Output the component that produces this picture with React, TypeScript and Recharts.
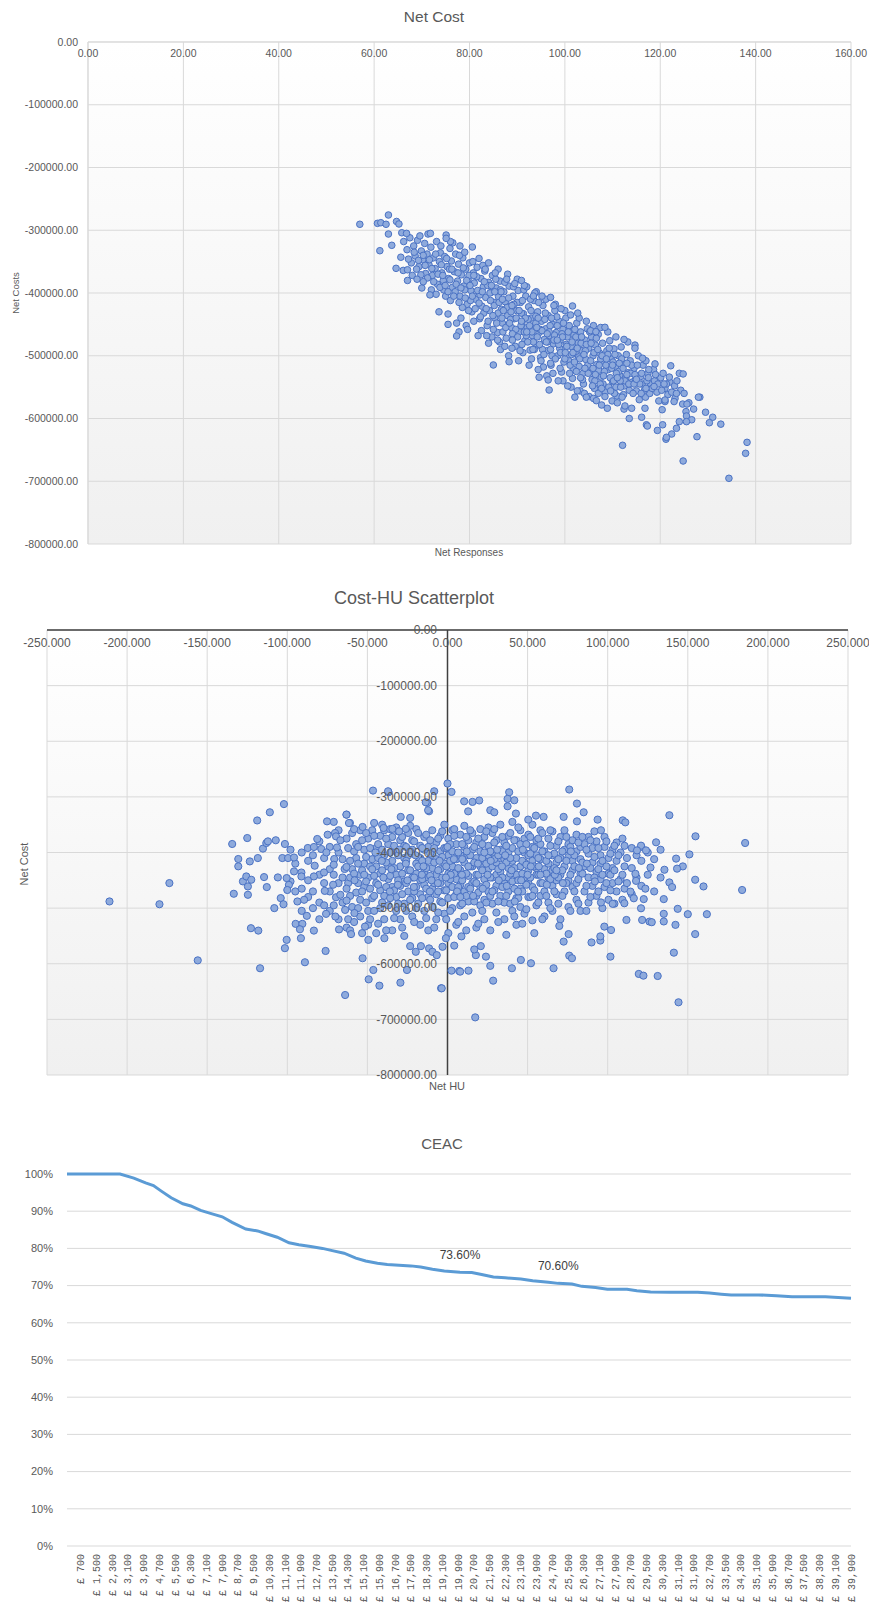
import {
  ScatterChart,
  Scatter,
  LineChart,
  Line,
  XAxis,
  YAxis,
  CartesianGrid,
  ReferenceLine,
  LabelList,
} from "recharts";

const FONT = "'Liberation Sans Narrow', 'Liberation Sans', Arial, sans-serif";
const MONO = "'Liberation Mono', 'DejaVu Sans Mono', monospace";
const GREY = "#595959";

// Net Cost chart: [net responses, net cost in £ thousands]
const responseCostTail: [number, number][] = [
  [57.0, -290.5], [60.7, -289.0], [61.4, -288.0], [62.5, -290.5], [63.0, -275.7], [64.7, -286.0], [65.2, -290.0],
  [63.0, -306.0], [61.2, -332.6], [63.7, -324.0], [64.6, -360.7], [65.8, -304.0], [66.8, -305.0], [69.6, -309.0],
  [71.3, -306.0], [71.8, -305.0], [75.1, -307.6], [75.1, -312.9], [80.6, -326.7], [65.6, -343.0], [67.2, -346.0],
  [66.1, -364.0], [67.0, -363.0], [77.3, -468.5], [85.0, -514.7], [88.3, -509.5], [73.6, -430.0], [75.5, -433.5],
  [75.5, -450.0], [77.3, -448.0], [71.7, -403.0], [69.0, -378.0], [70.3, -382.0], [90.9, -380.0], [93.4, -404.8],
  [97.0, -407.0], [101.6, -420.7], [108.4, -454.7], [112.4, -474.0], [114.7, -483.0], [114.7, -488.0], [116.3, -504.0],
  [118.9, -513.0], [122.2, -516.0], [124.0, -528.0], [124.8, -529.0], [121.9, -534.0], [120.8, -545.0], [123.4, -560.0],
  [128.3, -566.0], [124.7, -577.0], [125.6, -577.0], [125.4, -589.0], [125.5, -596.0], [126.6, -602.0], [124.0, -605.0],
  [130.3, -606.7], [132.7, -609.0], [127.7, -629.0], [124.8, -667.7], [134.4, -695.3], [138.2, -638.0], [137.9, -655.5],
  [112.1, -642.7], [121.2, -633.0], [122.4, -624.7], [123.4, -615.6], [119.4, -619.0], [120.5, -610.0], [120.4, -586.0],
  [121.0, -573.0], [117.1, -610.0], [116.1, -598.0], [113.5, -600.0], [116.8, -583.7], [112.4, -585.0], [114.0, -583.7],
  [112.6, -580.0], [108.9, -583.7], [107.7, -578.5], [106.6, -571.6], [104.5, -566.0], [102.1, -566.0], [96.7, -554.6],
  [94.6, -534.3], [96.5, -538.6], [118.7, -549.0], [117.0, -552.0], [115.0, -537.5], [105.4, -460.0], [106.5, -461.7],
  [128.0, -566.0], [121.0, -570.5], [122.9, -573.0], [117.3, -612.0], [121.3, -630.0], [125.5, -605.0],
];

const responseCostCloud: [number, number][] = [
  [66.2, -318], [66.9, -331], [67.5, -312], [67.8, -352], [68.3, -325], [68.6, -341], [69.1, -316], [69.4, -358],
  [69.9, -333], [70.2, -347], [70.6, -321], [70.8, -369], [71.1, -338], [71.5, -355], [71.9, -327], [72.2, -372],
  [72.4, -344], [72.8, -361], [73.1, -318], [73.3, -386], [73.7, -350], [73.9, -336], [74.2, -368], [74.6, -395],
  [74.8, -342], [75.3, -358], [75.6, -377], [75.9, -329], [76.2, -349], [76.4, -391], [76.8, -366], [77.1, -338],
  [77.5, -381], [77.7, -354], [78.0, -405], [78.3, -371], [78.6, -344], [78.8, -389], [79.2, -362], [79.5, -418],
  [79.7, -378], [80.0, -352], [80.3, -396], [80.5, -430], [80.8, -368], [81.0, -384], [81.3, -410], [81.6, -359],
  [81.9, -398], [82.1, -441], [82.4, -377], [82.6, -421], [82.9, -390], [83.2, -365], [83.4, -407], [83.7, -452],
  [84.0, -383], [84.2, -428], [84.5, -399], [84.8, -372], [85.1, -415], [85.3, -440], [85.6, -392], [85.9, -463],
  [86.1, -406], [86.4, -381], [86.7, -426], [86.9, -448], [87.2, -398], [87.5, -414], [87.7, -472], [88.0, -436],
  [88.3, -389], [88.5, -421], [88.8, -455], [89.1, -405], [89.4, -441], [89.6, -485], [89.9, -428], [90.2, -396],
  [90.5, -462], [90.7, -415], [91.0, -447], [91.3, -433], [91.6, -476], [91.8, -405], [92.1, -455], [92.4, -422],
  [92.7, -491], [92.9, -440], [93.2, -468], [93.5, -412], [93.8, -452], [94.0, -484], [94.3, -430], [94.6, -463],
  [94.9, -503], [95.1, -445], [95.4, -420], [95.7, -474], [96.0, -457], [96.3, -492], [96.5, -436], [96.8, -468],
  [97.1, -515], [97.4, -450], [97.6, -481], [97.9, -428], [98.2, -463], [98.5, -500], [98.8, -445], [99.0, -476],
  [99.3, -526], [99.6, -458], [99.9, -490], [100.2, -440], [100.5, -470], [100.8, -508], [101.0, -455], [101.3, -485],
  [101.6, -536], [101.9, -467], [102.2, -497], [102.5, -448], [102.8, -480], [103.0, -517], [103.3, -462], [103.6, -492],
  [103.9, -545], [104.2, -475], [104.4, -506], [104.7, -457], [105.0, -488], [105.3, -526], [105.6, -470], [105.9, -500],
  [106.2, -552], [106.4, -483], [106.7, -514], [107.0, -466], [107.3, -496], [107.6, -534], [107.9, -480], [108.2, -509],
  [108.5, -558], [108.8, -492], [109.1, -522], [109.4, -476], [109.7, -505], [110.0, -541], [110.3, -489], [110.6, -518],
  [110.9, -564], [111.2, -500], [111.5, -531], [111.8, -486], [112.1, -514], [112.5, -548], [112.9, -498], [113.3, -527],
  [113.7, -508], [114.1, -542], [114.5, -520], [115.0, -556], [115.4, -500], [115.9, -533], [116.4, -515], [116.9, -566],
  [117.4, -528], [118.0, -545], [118.6, -522], [119.3, -558], [120.1, -535], [121.0, -552], [122.0, -542], [123.1, -568],
  [124.3, -555], [126.0, -575],
  [74.0, -325], [74.5, -380], [75.0, -405], [75.8, -362], [76.5, -320], [77.0, -398], [77.9, -340], [78.5, -423],
  [79.0, -395], [79.9, -372], [80.2, -412], [80.9, -445], [81.5, -374], [82.2, -403], [82.8, -356], [83.0, -432],
  [83.8, -388], [84.4, -412], [85.0, -458], [85.5, -378], [86.0, -432], [86.5, -395], [87.0, -462], [87.4, -383],
  [87.9, -423], [88.6, -442], [89.2, -390], [89.7, -458], [90.0, -415], [90.9, -432], [91.4, -395], [91.9, -468],
  [92.3, -442], [92.8, -410], [93.4, -478], [93.9, -437], [94.5, -415], [94.8, -458], [95.3, -490], [95.9, -432],
  [96.4, -478], [96.9, -452], [97.3, -500], [97.8, -467], [98.3, -438], [98.9, -488], [99.4, -465], [99.8, -510],
  [100.3, -482], [100.9, -452], [101.4, -498], [101.8, -522], [102.3, -470], [102.9, -502], [103.4, -480], [103.8, -528],
  [104.3, -492], [104.8, -515], [105.2, -462], [105.7, -538], [106.1, -495], [106.6, -472], [107.1, -523], [107.5, -505],
  [108.0, -545], [108.6, -515], [109.0, -498], [109.5, -535], [110.1, -510], [110.7, -550], [111.3, -525], [111.9, -505],
  [112.3, -562], [112.8, -535], [113.5, -555], [114.0, -515], [114.8, -538], [115.6, -570], [116.2, -545], [117.0, -508],
  [117.8, -560], [118.8, -540], [119.7, -572], [120.6, -528], [121.6, -562], [123.0, -548], [125.0, -560], [127.0, -585],
  [129.5, -590], [131.0, -598],
  [72.0, -395], [73.0, -402], [76.0, -412], [78.2, -440], [79.3, -452], [70.0, -392], [68.0, -372], [67.0, -380],
  [76.0, -318], [78.0, -325], [79.0, -335], [82.0, -345], [84.0, -352], [86.0, -362], [88.0, -370], [90.0, -378],
  [92.0, -390], [94.0, -398], [96.0, -410], [98.0, -418], [100.0, -428], [103.0, -440], [106.0, -452], [109.0, -462],
  [68.4, -335], [68.9, -362], [69.3, -348], [69.8, -371], [70.3, -340], [70.7, -356], [71.2, -376], [71.6, -347],
  [72.1, -361], [72.5, -382], [72.9, -338], [73.4, -370], [73.8, -391], [74.1, -355], [74.4, -372], [74.9, -388],
  [75.2, -345], [75.5, -398], [75.9, -379], [76.3, -362], [76.7, -405], [77.2, -386], [77.6, -368], [77.8, -415],
  [78.2, -392], [78.7, -360], [79.1, -408], [79.4, -380], [79.8, -428], [80.1, -388], [80.6, -405], [80.9, -372],
  [81.2, -425], [81.7, -396], [82.0, -416], [82.3, -438], [82.7, -398], [83.1, -382], [83.5, -425], [83.9, -445],
  [84.3, -400], [84.6, -388], [84.9, -436], [85.2, -420], [85.7, -448], [86.2, -415], [86.6, -398], [86.8, -440],
  [87.1, -428], [87.6, -455], [88.2, -408], [88.4, -448], [88.7, -430], [89.0, -465], [89.3, -418], [89.8, -440],
  [90.1, -470], [90.4, -428], [90.8, -452], [91.1, -412], [91.5, -462], [91.7, -440], [92.2, -478], [92.6, -452],
  [92.9, -428], [93.1, -462], [93.6, -490], [93.9, -448], [94.2, -470], [94.4, -440], [94.7, -482], [95.2, -460],
  [95.6, -498], [95.8, -442], [96.1, -478], [96.7, -462], [97.0, -490], [97.2, -440], [97.7, -475], [98.0, -505],
  [98.4, -452], [98.7, -482], [99.1, -495], [99.5, -470], [99.7, -448], [100.0, -505], [100.4, -485], [100.7, -462],
  [101.1, -515], [101.5, -478], [101.7, -495], [102.1, -458], [102.4, -525], [102.6, -488], [103.1, -505], [103.5, -470],
  [103.7, -538], [104.0, -498], [104.5, -482], [104.9, -528], [105.4, -508], [105.5, -480], [105.9, -520], [106.3, -540],
  [106.9, -490], [107.2, -515], [107.4, -545], [107.8, -500], [108.3, -525], [108.7, -505], [109.2, -550], [109.3, -488],
  [109.8, -520], [110.2, -540], [110.5, -498], [110.8, -528], [111.4, -512], [111.7, -550], [112.2, -520], [112.6, -540],
  [113.0, -512], [113.4, -545], [113.8, -528], [114.3, -560], [114.7, -530], [115.2, -515], [115.7, -545], [116.1, -528],
  [116.7, -555], [117.2, -540], [117.6, -522], [118.3, -552], [119.0, -530], [119.5, -545], [120.3, -555], [121.3, -545],
  [122.4, -558], [123.5, -540],
  [82.5, -460], [84.7, -470], [86.3, -478], [88.9, -488], [91.2, -495], [93.0, -505], [95.5, -518], [97.5, -528],
  [99.6, -540], [101.3, -550], [103.2, -556], [105.1, -565], [107.0, -560], [109.9, -572], [111.0, -575],
  [80.7, -350], [83.3, -362], [85.4, -368], [87.8, -378], [89.5, -385], [91.5, -388], [93.7, -400], [95.2, -405],
  [97.7, -420], [99.2, -425], [101.2, -435], [102.7, -432], [104.5, -445], [107.5, -455], [110.7, -470], [113.2, -478],
  [86.5, -490], [88.2, -500], [90.3, -508], [92.5, -515], [94.4, -522], [96.2, -532], [98.6, -540], [100.6, -548],
  [102.6, -556], [104.1, -560], [106.0, -568], [108.4, -565], [110.4, -560], [112.0, -566], [84.0, -480], [81.8, -468],
  [79.6, -458], [77.8, -462], [89.0, -475], [91.0, -482], [93.3, -490], [95.0, -508], [97.0, -512], [99.0, -520],
  [101.0, -528], [103.3, -535], [105.8, -548], [107.7, -552], [109.6, -556], [111.6, -540], [83.6, -468], [85.9, -475],
  [87.4, -485], [90.6, -492], [85.3, -398], [86.9, -410], [88.9, -420], [90.9, -445], [92.0, -462], [94.1, -455],
  [96.3, -465], [98.4, -475], [100.1, -495], [102.0, -510], [104.2, -520], [106.4, -530], [108.1, -532], [110.0, -515],
  [111.0, -535], [113.0, -530], [114.5, -545], [116.0, -560], [117.5, -535],
];

// Cost-HU chart: [net HU, net cost in £ thousands]
const huCostSpread: [number, number][] = [
  [-211, -488], [-179.8, -493], [-173.6, -455], [-155.9, -593.9], [-134.4, -384.7], [-130.6, -411.7], [-130.6, -424.9],
  [-125, -374], [-118.8, -342.4], [-110.9, -327.7], [-102.1, -313], [-133.4, -474.2], [-127.7, -452], [-125.6, -443],
  [-122.5, -449], [-124.6, -461], [-124.6, -476], [-123.4, -416], [-118.4, -410], [-115.2, -393], [-113.1, -383],
  [-112.1, -380], [-107.2, -378], [-101.5, -384.7], [-114.5, -444.2], [-112.8, -462.2], [-105.9, -444.8], [-108.1, -500],
  [-104.1, -482], [-102.4, -493], [-122.7, -536.1], [-118.1, -540.4], [-117, -608.1], [-103.1, -410], [-99.5, -410],
  [-95.8, -409], [-100.4, -446], [-99, -458.2], [-100, -467.4], [-95.8, -434], [-91.2, -436], [-91.2, -443],
  [-94.8, -528.3], [-90.6, -528.3], [-92.1, -538], [-100.4, -557.1], [-101.5, -572], [-93.7, -488], [-89.5, -485],
  [-87.8, -513.9], [-91.5, -554.1], [-89, -597.3], [-87.2, -391.9], [-83.4, -390.1], [-81.3, -375.7], [-78.8, -393.7],
  [-75.6, -399.8], [-82.9, -423.8], [-83.4, -443], [-77.1, -435.9], [-75.2, -344], [-74.8, -368], [-70.2, -365],
  [-69, -391], [-69.6, -371], [-66.9, -378], [-70.7, -411.7], [-71, -422], [-71.4, -458], [-76.6, -469],
  [-69.6, -480.5], [-70, -515.1], [-75.8, -510.3], [-83.4, -540.4], [-76.1, -577], [-67.7, -538.3], [-63.9, -656.2],
  [-63, -331.9], [-60.9, -346.9], [-64.2, -429.7], [-63.1, -426], [-66.9, -476.1], [-63, -486.4], [-63.9, -503.2],
  [-60.2, -546.7], [-58.1, -508.9], [-53, -354.1], [-45.8, -346.9], [-39.9, -355.9], [-36.8, -291.7], [-46.5, -288.7],
  [-53, -590.1], [-46.3, -611.2], [-49.2, -628], [-42.5, -639.4], [-29.4, -634], [-25.3, -611.2], [-4, -644.1],
  [-49.4, -557.1], [-39.4, -554.1], [-51.5, -533.2], [-12.5, -310.8], [-11.5, -325.9], [-8.3, -289.9], [0, -276],
  [2.5, -291.1], [-29.2, -336], [-23.3, -337.8], [-34.4, -357.6], [-30.2, -361.9], [-26, -357.6], [-23.3, -568.3],
  [-19.8, -578.5], [-16.6, -568.3], [-11.5, -572.4], [-9.4, -578.5], [-6.7, -584.5], [-3.1, -569.5], [2.5, -612.4],
  [7.3, -613], [-37.1, -289.9], [-13.6, -309.7], [-12.1, -324], [-63.1, -331.9], [-61.5, -347],
  [76, -286.8], [80.8, -312], [85, -327.7], [80.8, -344], [93.7, -340.9], [109.4, -342.2], [111, -345.8],
  [138.5, -333], [154.8, -370.9], [185.8, -382.9], [183.9, -467.4], [130.2, -381.7], [120.8, -387.7], [123.9, -396.2],
  [118.3, -396.2], [142.7, -411], [151, -403.4], [146.9, -425], [143.3, -429], [135.4, -431], [126.7, -427],
  [154.6, -449], [159.8, -461], [138.5, -453.8], [140.2, -462.2], [135, -483.8], [143.7, -501.3], [150, -510.9],
  [161.9, -510.9], [135, -510.3], [135, -524], [142.3, -530.1], [154.6, -546.7], [141.3, -580.1], [144.2, -669.3],
  [119.4, -618.3], [122.3, -621.4], [131.2, -622], [121.5, -521.3], [126.1, -524.2], [127.5, -525.3], [120.8, -500.3],
  [122.5, -483.8], [123.5, -465], [111.7, -521.3], [110.4, -491.3], [116.3, -482.3], [114.2, -470.3], [117.3, -438.3],
  [117.7, -451], [101.7, -587.2], [102.1, -539.4], [97.9, -533.2], [103.1, -492.3], [95.8, -489.8], [95.4, -558.3],
  [89.9, -561.7], [95.4, -550.8], [76, -585.4], [77.7, -590.1], [66.2, -608.1], [72.5, -560.2], [75.6, -546.7],
  [69.8, -532], [52.1, -599.1], [40.2, -608.1], [45.8, -593.2], [28.5, -630.4], [26.7, -603.8], [24, -587.2],
  [17.3, -696.4], [7.9, -614.2], [13.1, -612.4], [-3.6, -644.1], [4.2, -567.4], [-1, -554.1], [17.7, -584.5],
  [16.7, -574.3], [20.8, -568.3], [8.7, -550.8], [10.4, -308], [15.6, -309], [19.8, -306.5], [12.9, -326],
  [38.5, -291.7], [37.5, -303.6], [41.7, -306.1], [37.5, -316.9], [26.7, -324], [29.2, -327.7], [42.7, -330],
  [50.4, -340.9], [55.2, -333.7], [60, -336], [72.5, -336], [95.8, -360],
];

const huCostCloud: [number, number][] = [
  [-62, -392], [-62, -455], [-62, -520], [-59.5, -365], [-59.5, -430], [-59.5, -498], [-57, -410], [-57, -472], [-57, -385],
  [-54.5, -440], [-54.5, -360], [-54.5, -515], [-54.5, -485], [-52, -395], [-52, -462], [-52, -420],
  [-49.5, -375], [-49.5, -445], [-49.5, -505], [-49.5, -530], [-47, -412], [-47, -482], [-47, -360],
  [-44.5, -392], [-44.5, -455], [-44.5, -425], [-44.5, -545], [-42, -370], [-42, -438], [-42, -500], [-42, -468],
  [-39.5, -405], [-39.5, -360], [-39.5, -478], [-39.5, -520], [-37, -385], [-37, -448], [-37, -425], [-37, -495],
  [-34.5, -415], [-34.5, -372], [-34.5, -462], [-34.5, -540], [-32, -398], [-32, -440], [-32, -505], [-32, -355], [-32, -480],
  [-29.5, -378], [-29.5, -425], [-29.5, -460], [-29.5, -520], [-27, -410], [-27, -388], [-27, -452], [-27, -492], [-27, -550],
  [-24.5, -365], [-24.5, -432], [-24.5, -470], [-24.5, -405], [-22, -395], [-22, -445], [-22, -515], [-22, -378], [-22, -482],
  [-19.5, -420], [-19.5, -358], [-19.5, -462], [-19.5, -500], [-19.5, -438], [-17, -388], [-17, -410], [-17, -475], [-17, -530], [-17, -450],
  [-14.5, -372], [-14.5, -435], [-14.5, -458], [-14.5, -505], [-14.5, -395], [-12, -415], [-12, -390], [-12, -480], [-12, -445], [-12, -540],
  [-9.5, -360], [-9.5, -428], [-9.5, -465], [-9.5, -498], [-9.5, -405], [-7, -382], [-7, -440], [-7, -412], [-7, -520], [-7, -475],
  [-4.5, -398], [-4.5, -455], [-4.5, -370], [-4.5, -488], [-4.5, -430], [-2, -420], [-2, -350], [-2, -468], [-2, -510], [-2, -392],
  [0.5, -375], [0.5, -438], [0.5, -405], [0.5, -482], [0.5, -545], [0.5, -455], [3, -398], [3, -360], [3, -462], [3, -425], [3, -500],
  [5.5, -412], [5.5, -385], [5.5, -448], [5.5, -530], [5.5, -475], [8, -368], [8, -432], [8, -405], [8, -495], [8, -458],
  [10.5, -390], [10.5, -418], [10.5, -470], [10.5, -352], [10.5, -515], [13, -405], [13, -442], [13, -378], [13, -488], [13, -462],
  [15.5, -425], [15.5, -365], [15.5, -455], [15.5, -508], [15.5, -395], [18, -382], [18, -410], [18, -478], [18, -440], [18, -535],
  [20.5, -398], [20.5, -358], [20.5, -462], [20.5, -425], [20.5, -495], [23, -415], [23, -372], [23, -448], [23, -485], [23, -520],
  [25.5, -388], [25.5, -430], [25.5, -405], [25.5, -470], [25.5, -355], [28, -400], [28, -445], [28, -365], [28, -492], [28, -425],
  [30.5, -378], [30.5, -418], [30.5, -460], [30.5, -508], [30.5, -440], [33, -395], [33, -350], [33, -435], [33, -478], [33, -410],
  [35.5, -412], [35.5, -382], [35.5, -455], [35.5, -520], [35.5, -490], [38, -370], [38, -428], [38, -400], [38, -470], [38, -445],
  [40.5, -392], [40.5, -345], [40.5, -452], [40.5, -415], [40.5, -505], [43, -410], [43, -378], [43, -440], [43, -482], [43, -530],
  [45.5, -385], [45.5, -425], [45.5, -360], [45.5, -465], [45.5, -498], [48, -400], [48, -445], [48, -418], [48, -375], [48, -510],
  [50.5, -368], [50.5, -432], [50.5, -480], [50.5, -405], [50.5, -455], [53, -390], [53, -415], [53, -350], [53, -462], [53, -522],
  [55.5, -405], [55.5, -440], [55.5, -378], [55.5, -495], [55.5, -428], [58, -385], [58, -455], [58, -412], [58, -360], [58, -478],
  [60.5, -398], [60.5, -430], [60.5, -470], [60.5, -515], [63, -375], [63, -420], [63, -445], [63, -490],
  [65.5, -405], [65.5, -362], [65.5, -460], [65.5, -432], [65.5, -505], [68, -388], [68, -418], [68, -475], [68, -450],
  [70.5, -372], [70.5, -440], [70.5, -410], [70.5, -520], [73, -395], [73, -425], [73, -470], [73, -360],
  [75.5, -408], [75.5, -450], [75.5, -385], [75.5, -498], [78, -378], [78, -432], [78, -415], [78, -462],
  [80.5, -398], [80.5, -455], [80.5, -368], [80.5, -485], [83, -412], [83, -438], [83, -390], [83, -505],
  [85.5, -385], [85.5, -425], [85.5, -470], [88, -402], [88, -445], [88, -372], [88, -490], [90.5, -418], [90.5, -392], [90.5, -460],
  [93, -380], [93, -435], [93, -478], [95.5, -405], [95.5, -448], [95.5, -420], [98, -390], [98, -462], [98, -372],
  [100.5, -410], [100.5, -438], [100.5, -485], [103, -395], [103, -428], [103, -455], [105.5, -415], [105.5, -382], [105.5, -470],
  [108, -400], [108, -448], [110.5, -425], [110.5, -388], [110.5, -465],
  [-98, -395], [-98, -452], [-95, -420], [-95, -470], [-91, -400], [-91, -465], [-91, -505], [-87, -415], [-87, -450], [-87, -480],
  [-84, -405], [-84, -470], [-84, -500], [-80, -380], [-80, -440], [-80, -490], [-80, -520], [-77, -410], [-77, -455], [-77, -495],
  [-73.5, -390], [-73.5, -430], [-73.5, -470], [-73.5, -505], [-71, -345], [-71, -440], [-71, -495], [-68, -400], [-68, -455],
  [-68, -520], [-68, -360], [-65.5, -412], [-65.5, -445], [-65.5, -490], [-63, -375], [-63, -465], [-63, -535],
  [-60.8, -415], [-60.8, -445], [-60.8, -478], [-60.8, -540], [-58.3, -398], [-58.3, -438], [-58.3, -525], [-58.3, -358],
  [-55.8, -420], [-55.8, -455], [-55.8, -390], [-55.8, -500], [-53.3, -378], [-53.3, -432], [-53.3, -470], [-53.3, -545],
  [-50.8, -408], [-50.8, -452], [-50.8, -490], [-50.8, -365], [-48.3, -392], [-48.3, -425], [-48.3, -465], [-48.3, -520],
  [-45.8, -370], [-45.8, -442], [-45.8, -478], [-45.8, -505], [-43.3, -410], [-43.3, -385], [-43.3, -458], [-43.3, -528],
  [-40.8, -395], [-40.8, -432], [-40.8, -490], [-40.8, -350], [-38.3, -418], [-38.3, -462], [-38.3, -375], [-38.3, -540],
  [-35.8, -400], [-35.8, -442], [-35.8, -482], [-35.8, -358], [-33.3, -388], [-33.3, -428], [-33.3, -468], [-33.3, -518],
  [-30.8, -405], [-30.8, -450], [-30.8, -362], [-30.8, -492], [-28.3, -372], [-28.3, -438], [-28.3, -475], [-28.3, -535],
  [-25.8, -415], [-25.8, -455], [-25.8, -390], [-25.8, -505], [-23.3, -398], [-23.3, -432], [-23.3, -485], [-23.3, -352],
  [-20.8, -380], [-20.8, -445], [-20.8, -470], [-20.8, -525], [-18.3, -408], [-18.3, -425], [-18.3, -492], [-18.3, -365],
  [-15.8, -392], [-15.8, -448], [-15.8, -482], [-15.8, -415], [-13.3, -368], [-13.3, -428], [-13.3, -465], [-13.3, -518],
  [-10.8, -402], [-10.8, -442], [-10.8, -485], [-10.8, -378], [-8.3, -418], [-8.3, -455], [-8.3, -392], [-8.3, -535],
  [-5.8, -375], [-5.8, -432], [-5.8, -470], [-5.8, -508], [-3.3, -408], [-3.3, -445], [-3.3, -362], [-3.3, -490],
  [-0.8, -392], [-0.8, -425], [-0.8, -468], [-0.8, -520], [1.7, -415], [1.7, -448], [1.7, -385], [1.7, -505],
  [4.2, -370], [4.2, -438], [4.2, -480], [4.2, -358], [6.7, -400], [6.7, -428], [6.7, -462], [6.7, -525],
  [9.2, -385], [9.2, -450], [9.2, -492], [9.2, -412], [11.7, -372], [11.7, -438], [11.7, -478], [11.7, -540],
  [14.2, -405], [14.2, -425], [14.2, -465], [14.2, -360], [16.7, -390], [16.7, -452], [16.7, -488], [16.7, -418],
  [19.2, -375], [19.2, -440], [19.2, -472], [19.2, -528], [21.7, -410], [21.7, -432], [21.7, -385], [21.7, -505],
  [24.2, -362], [24.2, -420], [24.2, -458], [24.2, -490], [26.7, -398], [26.7, -445], [26.7, -478], [26.7, -540],
  [29.2, -382], [29.2, -412], [29.2, -468], [29.2, -358], [31.7, -405], [31.7, -430], [31.7, -488], [31.7, -525],
  [34.2, -372], [34.2, -445], [34.2, -462], [34.2, -398], [36.7, -388], [36.7, -418], [36.7, -478], [36.7, -548],
  [39.2, -410], [39.2, -438], [39.2, -365], [39.2, -492], [41.7, -378], [41.7, -428], [41.7, -465], [41.7, -515],
  [44.2, -398], [44.2, -450], [44.2, -355], [44.2, -482], [46.7, -415], [46.7, -438], [46.7, -470], [46.7, -528],
  [49.2, -385], [49.2, -422], [49.2, -458], [49.2, -502], [51.7, -402], [51.7, -445], [51.7, -372], [51.7, -480],
  [54.2, -392], [54.2, -425], [54.2, -468], [54.2, -545], [56.7, -375], [56.7, -440], [56.7, -490], [56.7, -410],
  [59.2, -398], [59.2, -455], [59.2, -365], [59.2, -520], [61.7, -415], [61.7, -438], [61.7, -478],
  [64.2, -388], [64.2, -448], [64.2, -500], [64.2, -360], [66.7, -402], [66.7, -428], [66.7, -470],
  [69.2, -380], [69.2, -445], [69.2, -492], [69.2, -412], [71.7, -398], [71.7, -432], [71.7, -478],
  [74.2, -415], [74.2, -455], [74.2, -372], [76.7, -390], [76.7, -440], [76.7, -505], [79.2, -405], [79.2, -425], [79.2, -470],
  [81.7, -382], [81.7, -448], [81.7, -492], [84.2, -418], [84.2, -438], [84.2, -372], [86.7, -395], [86.7, -460], [86.7, -505],
  [89.2, -378], [89.2, -428], [89.2, -480], [91.7, -408], [91.7, -445], [91.7, -362], [94.2, -392], [94.2, -470], [94.2, -430],
  [96.7, -415], [96.7, -440], [96.7, -500], [99.2, -380], [99.2, -455], [99.2, -425], [101.7, -402], [101.7, -468], [101.7, -440],
  [104.2, -388], [104.2, -432], [104.2, -492], [106.7, -405], [106.7, -452], [109.2, -375], [109.2, -440], [109.2, -485],
  [112, -410], [112, -455], [115, -392], [115, -428], [115, -475], [118, -405], [118, -445], [121, -415], [121, -460],
  [121, -390], [125, -400], [125, -440], [129, -412], [129, -470], [133, -395], [133, -445],
  [-45, -400], [-40, -445], [-35, -430], [-30, -395], [-25, -450], [-20, -405], [-15, -425], [-10, -450], [-5, -415],
  [0, -390], [2, -440], [6, -470], [9, -440], [12, -398], [16, -478], [19, -420], [22, -465], [25, -440], [27, -415],
  [31, -395], [34, -425], [37, -460], [40, -432], [44, -470], [47, -395], [50, -440], [53, -478], [57, -425], [62, -458],
  [67, -440], [72, -455], [77, -398], [82, -428], [87, -420], [92, -452],
  [-58, -450], [-52, -440], [-47, -430], [-41, -415], [-36, -470], [-31, -458], [-26, -420], [-21, -462], [-16, -440],
  [-11, -470], [-6, -455], [-1, -445], [4, -412], [8, -480], [13, -425], [18, -455], [23, -400], [28, -470], [32, -450],
  [36, -405], [42, -488], [46, -450], [52, -425], [58, -440], [63, -405], [68, -432],
];

const netResponseTicks = [0, 20, 40, 60, 80, 100, 120, 140, 160];
const netHuTicks = [-250, -200, -150, -100, -50, 0, 50, 100, 150, 200, 250];
const netCostTicks = [-800, -700, -600, -500, -400, -300, -200, -100, 0];

// CEAC: willingness to pay (£) and probability cost-effective (%)
const ceacWtp = [
  0, 2700, 3400, 4000, 4400, 4800, 5300, 5900, 6300, 6800, 7300, 7900, 8400, 9100, 9700, 10100, 10700, 11300, 11800,
  12400, 13000, 13500, 14100, 14700, 15200, 15800, 16300, 16900, 17500, 18000, 18600, 19200, 20000, 20600, 21100, 21700,
  22300, 23100, 23700, 24500, 25000, 25700, 26200, 26900, 27500, 28500, 29000, 29700, 30700, 32100, 32700, 33300, 33800,
  35200, 36100, 36900, 38600, 39900,
];
const ceacProb = [
  100, 100, 98.9, 97.6, 96.9, 95.4, 93.6, 92.0, 91.4, 90.2, 89.4, 88.5, 87.0, 85.2, 84.7, 84.0, 83.0, 81.5, 81.0, 80.5,
  80.0, 79.4, 78.7, 77.4, 76.6, 76.0, 75.7, 75.5, 75.3, 75.0, 74.4, 73.9, 73.6, 73.5, 73.0, 72.3, 72.1, 71.8, 71.3, 70.9,
  70.6, 70.4, 69.8, 69.5, 69.0, 69.0, 68.6, 68.3, 68.2, 68.2, 68.0, 67.7, 67.5, 67.5, 67.3, 67.0, 67.0, 66.6,
];
const ceacLabelledWtp = [20000, 25000];
const ceacXTicks = [
  700, 1500, 2300, 3100, 3900, 4700, 5500, 6300, 7100, 7900, 8700, 9500, 10300, 11100, 11900, 12700, 13500, 14300,
  15100, 15900, 16700, 17500, 18300, 19100, 19900, 20700, 21500, 22300, 23100, 23900, 24700, 25500, 26300, 27100,
  27900, 28700, 29500, 30300, 31100, 31900, 32700, 33500, 34300, 35100, 35900, 36700, 37500, 38300, 39100, 39900,
];
const ceacYTicks = [0, 10, 20, 30, 40, 50, 60, 70, 80, 90, 100];

const toPoints = (list: [number, number][]) => list.map(([x, y]) => ({ x, y }));
const responseCostData = toPoints([...responseCostCloud, ...responseCostTail]);
const huCostData = toPoints([...huCostCloud, ...huCostSpread]);
const ceacData = ceacWtp.map((wtp, i) => ({ wtp, prob: ceacProb[i] }));

const dot = (r: number) => (p: any) => (
  <circle cx={p.cx} cy={p.cy} r={r} fill="#8eaadc" stroke="#4a72c4" strokeWidth={1} />
);

const topTick = (y: number, size: number, digits: number) => (p: any) => (
  <text x={p.x} y={y} textAnchor="middle" fill={GREY} fontSize={size} fontFamily={FONT}>
    {Number(p.payload.value).toFixed(digits)}
  </text>
);

const sideTick = (x: number, size: number, fmt: (v: number) => string) => (p: any) => (
  <text x={x} y={p.y} dy={size * 0.35} textAnchor="end" fill={GREY} fontSize={size} fontFamily={FONT}>
    {fmt(Number(p.payload.value))}
  </text>
);

const costLabel = (v: number) => (v * 1000).toFixed(2);

const ceacTick = (p: any) => (
  <text
    transform={`translate(${p.x},444) rotate(-90)`}
    dy="0.35em"
    textAnchor="end"
    fill={GREY}
    fontSize={10}
    fontFamily={MONO}
  >
    {`£ ${Number(p.payload.value).toLocaleString("en-GB")}`}
  </text>
);

const ceacLabel = (p: any) => {
  const row = ceacData[p.index];
  if (!row || !ceacLabelledWtp.includes(row.wtp)) return null;
  return (
    <text x={p.x} y={p.y - 13} textAnchor="middle" fill="#404040" fontSize={12} fontFamily={FONT}>
      {`${Number(p.value).toFixed(2)}%`}
    </text>
  );
};

const abs = (left: number, top: number, size: number, rotate = false): React.CSSProperties => ({
  position: "absolute",
  left,
  top,
  transform: `translate(-50%, -50%)${rotate ? " rotate(-90deg)" : ""}`,
  whiteSpace: "nowrap",
  fontFamily: FONT,
  fontSize: size,
  color: GREY,
  lineHeight: 1,
});

export default function App() {
  return (
    <div style={{ position: "relative", width: 869, height: 1603, overflow: "hidden", background: "#fff" }}>
      <style>{`body { margin: 0; }`}</style>

      {/* Net Cost */}
      <div style={{ position: "absolute", left: 0, top: 0, width: 869, height: 570 }}>
        <ScatterChart width={869} height={570} margin={{ top: 22, right: 18, bottom: 26, left: 68 }}>
          <defs>
            <linearGradient id="bg1" x1="0" y1="0" x2="0" y2="1">
              <stop offset="0" stopColor="#ffffff" />
              <stop offset="1" stopColor="#f0f0f0" />
            </linearGradient>
          </defs>
          <CartesianGrid fill="url(#bg1)" stroke="#d9d9d9" />
          <XAxis
            type="number"
            dataKey="x"
            orientation="top"
            domain={[0, 160]}
            ticks={netResponseTicks}
            interval={0}
            height={20}
            axisLine={{ stroke: "#d9d9d9" }}
            tickLine={false}
            tick={topTick(57, 10.5, 2)}
          />
          <YAxis
            type="number"
            dataKey="y"
            domain={[-800, 0]}
            ticks={netCostTicks}
            interval={0}
            width={20}
            axisLine={{ stroke: "#d9d9d9" }}
            tickLine={false}
            tick={sideTick(78, 10.5, costLabel)}
          />
          <Scatter data={responseCostData} isAnimationActive={false} shape={dot(3.3)} />
        </ScatterChart>
        <div style={abs(434, 17, 15.5)}>Net Cost</div>
        <div style={abs(16, 293, 9.5, true)}>Net Costs</div>
        <div style={abs(469, 553, 10)}>Net Responses</div>
      </div>

      {/* Cost-HU Scatterplot */}
      <div style={{ position: "absolute", left: 0, top: 575, width: 869, height: 520 }}>
        <ScatterChart width={869} height={520} margin={{ top: 35, right: 21, bottom: 20, left: 27 }}>
          <defs>
            <linearGradient id="bg2" x1="0" y1="0" x2="0" y2="1">
              <stop offset="0" stopColor="#ffffff" />
              <stop offset="1" stopColor="#f0f0f0" />
            </linearGradient>
          </defs>
          <CartesianGrid fill="url(#bg2)" stroke="#d9d9d9" />
          <XAxis
            type="number"
            dataKey="x"
            orientation="top"
            domain={[-250, 250]}
            ticks={netHuTicks}
            interval={0}
            height={20}
            axisLine={{ stroke: "#404040", strokeWidth: 1.5 }}
            tickLine={false}
            tick={topTick(72, 12, 3)}
          />
          <YAxis
            type="number"
            dataKey="y"
            domain={[-800, 0]}
            ticks={netCostTicks}
            interval={0}
            width={20}
            axisLine={false}
            tickLine={false}
            tick={sideTick(437, 12, costLabel)}
          />
          <ReferenceLine x={0} stroke="#404040" strokeWidth={1.5} />
          <Scatter data={huCostData} isAnimationActive={false} shape={dot(3.6)} />
        </ScatterChart>
        <div style={abs(414, 23, 18)}>Cost-HU Scatterplot</div>
        <div style={abs(24, 289, 11, true)}>Net Cost</div>
        <div style={abs(447, 511, 11)}>Net HU</div>
      </div>

      {/* CEAC */}
      <div style={{ position: "absolute", left: 0, top: 1110, width: 869, height: 493 }}>
        <LineChart width={869} height={493} data={ceacData} margin={{ top: 64, right: 18, bottom: 27, left: 47 }}>
          <CartesianGrid vertical={false} stroke="#d9d9d9" />
          <XAxis
            type="number"
            dataKey="wtp"
            domain={[0, 39900]}
            ticks={ceacXTicks}
            interval={0}
            height={30}
            axisLine={false}
            tickLine={false}
            tick={ceacTick}
          />
          <YAxis
            type="number"
            domain={[0, 100]}
            ticks={ceacYTicks}
            interval={0}
            width={20}
            axisLine={false}
            tickLine={false}
            tick={sideTick(53, 11, (v) => `${v}%`)}
          />
          <Line
            type="linear"
            dataKey="prob"
            stroke="#5b9bd5"
            strokeWidth={3}
            dot={false}
            isAnimationActive={false}
          >
            <LabelList dataKey="prob" content={ceacLabel} />
          </Line>
        </LineChart>
        <div style={abs(442, 33, 15)}>CEAC</div>
      </div>
    </div>
  );
}
